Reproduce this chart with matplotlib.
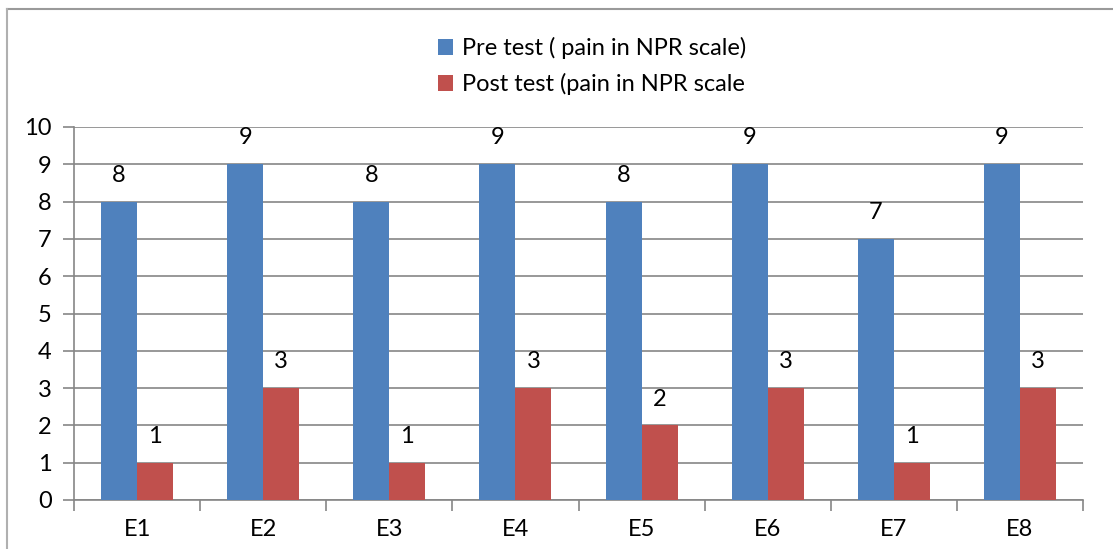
import matplotlib.pyplot as plt
from matplotlib.lines import Line2D
import numpy as np

plt.rcParams['font.family'] = ['Lato', 'DejaVu Sans']

# Data
categories = ['E1', 'E2', 'E3', 'E4', 'E5', 'E6', 'E7', 'E8']
pre_test = [8, 9, 8, 9, 8, 9, 7, 9]
post_test = [1, 3, 1, 3, 2, 3, 1, 3]
pre_label = 'Pre test ( pain in NPR scale)'
post_label = 'Post test (pain in NPR scale'

W, H = 1113, 549
fig = plt.figure(figsize=(W / 100, H / 100), dpi=100)
ax = fig.add_axes([74 / W, 1 - 500 / H, (1083 - 74) / W, (500 - 127) / H])

x = np.arange(len(categories))
bw = 0.285
b1 = ax.bar(x - bw / 2, pre_test, bw, color='#4F81BD', label=pre_label, zorder=3)
b2 = ax.bar(x + bw / 2, post_test, bw, color='#C0504D', label=post_label, zorder=3)

# Data labels
for bars in (b1, b2):
    for r in bars:
        ax.annotate(f'{int(r.get_height())}', (r.get_x() + r.get_width() / 2, r.get_height()),
                    xytext=(0, 19), textcoords='offset points', ha='center', va='center',
                    fontsize=17)

ax.set_xlim(-0.5, len(categories) - 0.5)
ax.set_ylim(0, 10)
ax.set_yticks(range(0, 11))
ax.yaxis.grid(True, color='#868686', linewidth=1.2, zorder=0)

# category separators on x axis
ax.set_xticks(np.arange(-0.5, len(categories), 1))
ax.set_xticklabels([])
ax.set_xticks(x, minor=True)
ax.set_xticklabels(categories, minor=True)
ax.tick_params(axis='x', which='major', length=8, width=1.2, color='#868686')
ax.tick_params(axis='x', which='minor', length=0, pad=14, labelsize=17)
ax.tick_params(axis='y', length=8, width=1.2, color='#868686', labelsize=17, pad=8)

for s in ['top', 'right']:
    ax.spines[s].set_visible(False)
for s in ['left', 'bottom']:
    ax.spines[s].set_color('#868686')
    ax.spines[s].set_linewidth(1.2)

leg = fig.legend(handles=[b1, b2], loc='center', bbox_to_anchor=(592 / W, 1 - 66 / H),
                 frameon=False, fontsize=17, handlelength=0.65, handleheight=0.65,
                 handletextpad=0.35, labelspacing=0.6, borderpad=0)

# outer chart border (top and left)
fig.add_artist(Line2D([7 / W, 1], [1 - 9 / H, 1 - 9 / H], color='#9a9a9a', linewidth=1.5))
fig.add_artist(Line2D([7 / W, 7 / W], [0, 1 - 9 / H], color='#b0b0b0', linewidth=1.5))

fig.savefig('out.png', dpi=100)
